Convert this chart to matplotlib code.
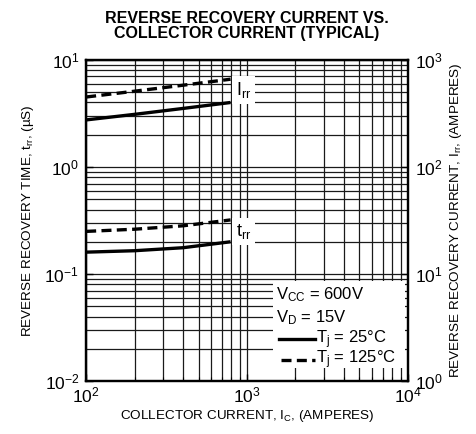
import numpy as np
import matplotlib
matplotlib.use("Agg")
import matplotlib.pyplot as plt
from matplotlib.lines import Line2D

plt.rcParams['font.family'] = ['Liberation Sans', 'DejaVu Sans']
plt.rcParams['mathtext.fontset'] = 'custom'
plt.rcParams['mathtext.rm'] = 'Liberation Sans'
plt.rcParams['mathtext.it'] = 'Liberation Sans'
plt.rcParams['axes.unicode_minus'] = False

# collector current (A)
ic = [100, 200, 400, 790]
# reverse recovery current (A), right axis
irr_25 = [275, 310, 352, 400]
irr_125 = [450, 510, 580, 660]
# reverse recovery time (us), left axis
trr_25 = [0.160, 0.165, 0.176, 0.200]
trr_125 = [0.250, 0.262, 0.282, 0.320]

fig = plt.figure(figsize=(4.76, 4.34), dpi=100)
ax = fig.add_axes([0.181, 0.122, 0.676, 0.740])
ax.set_xscale('log')
ax.set_yscale('log')
ax.set_xlim(1e2, 1e4)
ax.set_ylim(1e-2, 1e1)

ax2 = ax.twinx()
ax2.set_yscale('log')
ax2.set_ylim(1e0, 1e3)

ax.grid(True, which='both', color='#1a1a1a', linewidth=0.9)
ax.set_axisbelow(True)

ax.plot(ic, trr_25, color='black', lw=2.4, solid_capstyle='butt')
ax.plot(ic, trr_125, color='black', lw=2.4, ls=(0, (3, 1.6)))
ax2.plot(ic, irr_25, color='black', lw=2.4, solid_capstyle='butt')
ax2.plot(ic, irr_125, color='black', lw=2.4, ls=(0, (3, 1.6)))

box = dict(facecolor='white', edgecolor='none', pad=3)
ax2.text(850, 520, r'I$_{\mathregular{rr}}$', fontsize=13, ha='left', va='center', bbox=box)
ax.text(850, 0.25, r't$_{\mathregular{rr}}$', fontsize=13, ha='left', va='center', bbox=box)

# legend box
ax.add_patch(plt.Rectangle((0.58, 0.04), 0.41, 0.27, transform=ax.transAxes,
                           facecolor='white', edgecolor='none', zorder=3))
ax.text(0.59, 0.268, r'V$_{\mathregular{CC}}$ = 600V', transform=ax.transAxes,
        fontsize=12, va='center', zorder=4)
ax.text(0.59, 0.198, r'V$_{\mathregular{D}}$ = 15V', transform=ax.transAxes,
        fontsize=12, va='center', zorder=4)
ax.add_line(Line2D([0.60, 0.71], [0.13, 0.13], transform=ax.transAxes,
                   color='black', lw=2.4, zorder=4))
ax.add_line(Line2D([0.605, 0.71], [0.065, 0.065], transform=ax.transAxes,
                   color='black', lw=2.4, ls=(0, (3, 1.6)), zorder=4))
ax.text(0.715, 0.13, r'T$_{\mathregular{j}}$ = 25°C', transform=ax.transAxes,
        fontsize=12, va='center', zorder=4)
ax.text(0.715, 0.065, r'T$_{\mathregular{j}}$ = 125°C', transform=ax.transAxes,
        fontsize=12, va='center', zorder=4)

for a in (ax, ax2):
    a.tick_params(which='both', direction='in', labelsize=12.5, pad=5)
    a.tick_params(which='major', length=5, width=1)
    a.tick_params(which='minor', length=3, width=0.8)
    for s in a.spines.values():
        s.set_linewidth(1.6)
ax.tick_params(axis='y', which='minor', length=0)
ax2.tick_params(axis='y', which='minor', length=0)
ax.tick_params(axis='x', pad=3)

ax.set_xlabel(r'COLLECTOR CURRENT, I$_{\mathregular{C}}$, (AMPERES)', fontsize=9.7, labelpad=2)
ax.set_ylabel(r'REVERSE RECOVERY TIME, t$_{\mathregular{rr}}$, (µS)', fontsize=9.7, labelpad=6)
ax2.set_ylabel(r'REVERSE RECOVERY CURRENT, I$_{\mathregular{rr}}$, (AMPERES)', fontsize=9.7, labelpad=4)
ax.set_title('REVERSE RECOVERY CURRENT VS.\nCOLLECTOR CURRENT (TYPICAL)',
             fontsize=11.5, fontweight='bold', pad=16, linespacing=0.95)

fig.savefig('out.png', dpi=100)
